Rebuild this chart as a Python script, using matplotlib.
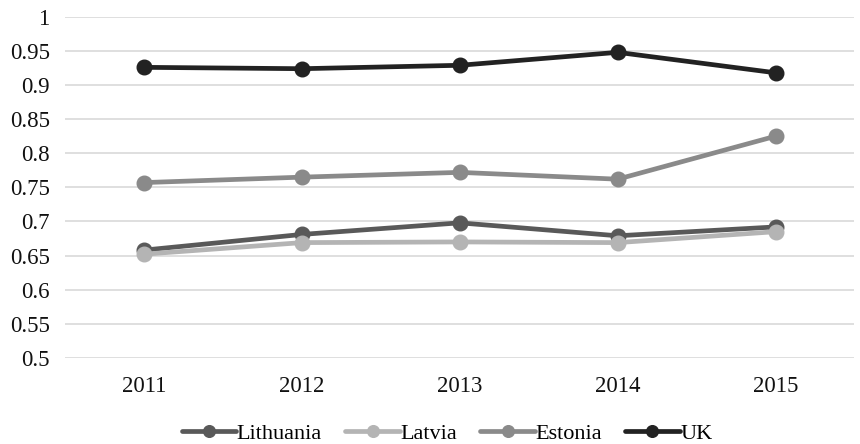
import matplotlib
matplotlib.use("Agg")
import matplotlib.pyplot as plt
import numpy as np

years = ["2011", "2012", "2013", "2014", "2015"]
lithuania = [0.658, 0.681, 0.698, 0.679, 0.692]
latvia = [0.652, 0.669, 0.670, 0.669, 0.685]
estonia = [0.757, 0.765, 0.772, 0.762, 0.825]
uk = [0.926, 0.924, 0.929, 0.948, 0.918]

series = [
    ("Lithuania", lithuania, "#595959"),
    ("Latvia", latvia, "#b4b4b4"),
    ("Estonia", estonia, "#8a8a8a"),
    ("UK", uk, "#222222"),
]

plt.rcParams["font.family"] = ["Liberation Serif", "DejaVu Serif"]

fig = plt.figure(figsize=(8.6, 4.44), dpi=100)
ax = fig.add_axes([0.0756, 0.194, 0.918, 0.768])

x = np.arange(len(years))
for name, vals, col in series:
    ax.plot(x, vals, color=col, lw=3.4, marker="o", markersize=10.5,
            solid_capstyle="round", label=name, zorder=3)

ax.set_xlim(-0.5, len(years) - 0.5)
ax.set_ylim(0.5, 1.0)
ax.set_yticks(np.arange(0.5, 1.0001, 0.05))
ax.set_yticklabels(["0.5", "0.55", "0.6", "0.65", "0.7", "0.75", "0.8",
                    "0.85", "0.9", "0.95", "1"])
ax.set_xticks(x)
ax.set_xticklabels(years)
ax.yaxis.grid(True, color="#d9d9d9", lw=1.2)
ax.set_axisbelow(True)
for s in ax.spines.values():
    s.set_visible(False)
ax.tick_params(axis="both", length=0, labelsize=16.5, colors="#111111")
ax.tick_params(axis="x", pad=13)
ax.tick_params(axis="y", pad=11)

leg = fig.legend(loc="lower center", bbox_to_anchor=(0.52, -0.045), ncol=4,
                 frameon=False, fontsize=16, handlelength=2.45,
                 handletextpad=0.02, columnspacing=1.05, markerscale=0.8)

fig.savefig("out.png", dpi=100, facecolor="white")
